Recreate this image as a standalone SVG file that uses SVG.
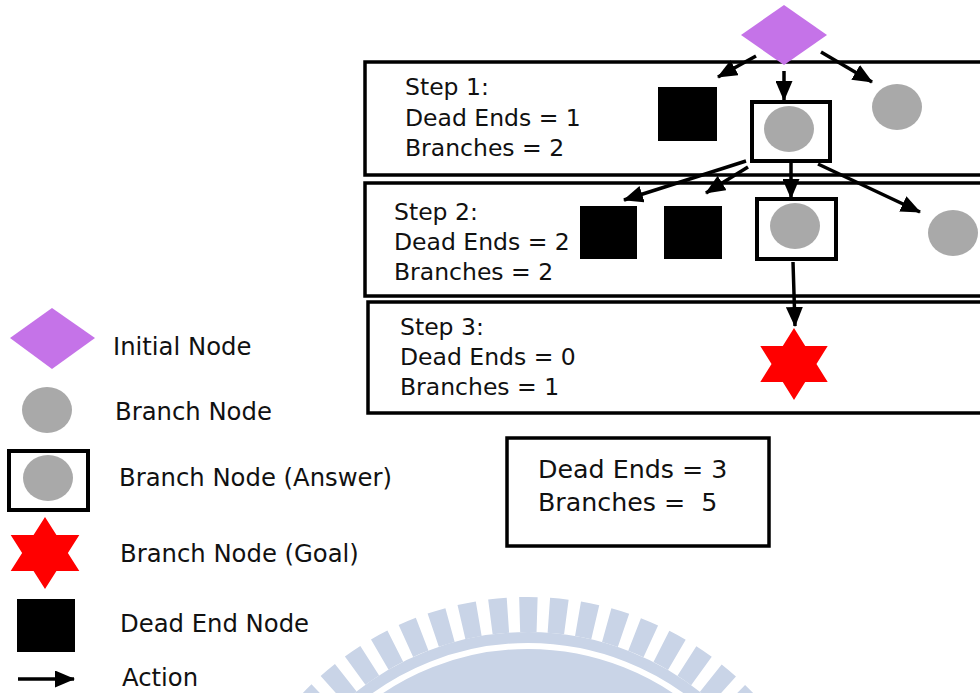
<svg xmlns="http://www.w3.org/2000/svg" width="980" height="693" viewBox="0 0 980 693">
  <style>
    .txt { font-family: "DejaVu Sans", "Noto Sans", sans-serif; fill: #111; }
    .step { font-size: 23.5px; }
    .leg { font-size: 24.3px; }
    .sum { font-size: 25.3px; }
    .frame { fill: #fff; stroke: #000; stroke-width: 3.5; }
    .ansbox { fill: #fff; stroke: #000; stroke-width: 4; }
    .branch { fill: #a9a9a9; }
    .dead { fill: #000; }
    .init { fill: #c573e8; }
    .goal { fill: #ff0000; }
    .edge { stroke: #000; stroke-width: 3.5; fill: none; marker-end: url(#arrow); }
    .wm { fill: none; stroke: #c9d4e7; }
  </style>
  <defs>
    <marker id="arrow" markerUnits="userSpaceOnUse" markerWidth="20" markerHeight="17" refX="19" refY="8.5" orient="auto">
      <path d="M0,0 L20,8.5 L0,17 z" fill="#000"/>
    </marker>
    <polygon id="hexagram" points="0,-36 10.4,-18 31.2,-18 20.8,0 31.2,18 10.4,18 0,36 -10.4,18 -31.2,18 -20.8,0 -31.2,-18 -10.4,-18"/>
  </defs>

  <rect width="980" height="693" fill="#fff"/>

  <!-- background emblem: toothed ring (63 teeth, one centred on top) -->
  <g id="emblem">
    <circle class="wm" cx="528" cy="909" r="294.5" stroke-width="35" stroke-dasharray="17.62 11.751" stroke-dashoffset="23.48" transform="rotate(90 528 909)"/>
    <circle class="wm" cx="528" cy="909" r="271.5" stroke-width="11"/>
    <circle class="wm" cx="528" cy="909" r="235" stroke-width="50"/>
  </g>

  <!-- step frames -->
  <g id="step1">
    <rect class="frame" x="365" y="62" width="625" height="113"/>
    <text class="txt step" x="405" y="95">Step 1:</text>
    <text class="txt step" x="405" y="126">Dead Ends = 1</text>
    <text class="txt step" x="405" y="156">Branches = 2</text>
  </g>
  <g id="step2">
    <rect class="frame" x="365" y="183" width="625" height="113"/>
    <text class="txt step" x="394" y="220">Step 2:</text>
    <text class="txt step" x="394" y="250">Dead Ends = 2</text>
    <text class="txt step" x="394" y="280">Branches = 2</text>
  </g>
  <g id="step3">
    <rect class="frame" x="368" y="302" width="622" height="111"/>
    <text class="txt step" x="400" y="335">Step 3:</text>
    <text class="txt step" x="400" y="365">Dead Ends = 0</text>
    <text class="txt step" x="400" y="395">Branches = 1</text>
  </g>

  <!-- totals -->
  <g id="totals">
    <rect class="frame" x="507" y="438" width="262" height="108"/>
    <text class="txt sum" x="538" y="478">Dead Ends = 3</text>
    <text class="txt sum" x="538" y="511" xml:space="preserve">Branches =  5</text>
  </g>

  <!-- search tree nodes -->
  <g id="start">
    <polygon class="init" points="784,5 827,35 784,65 741,35"/>
  </g>
  <g id="s1-dead">
    <rect class="dead" x="658" y="87" width="59" height="54"/>
  </g>
  <g id="s1-answer">
    <rect class="ansbox" x="752" y="102" width="78" height="59"/>
    <ellipse class="branch" cx="789" cy="129" rx="25" ry="23"/>
  </g>
  <g id="s1-branch">
    <ellipse class="branch" cx="897" cy="107" rx="25" ry="23"/>
  </g>
  <g id="s2-dead-a">
    <rect class="dead" x="580" y="206" width="57" height="53"/>
  </g>
  <g id="s2-dead-b">
    <rect class="dead" x="664" y="206" width="58" height="53"/>
  </g>
  <g id="s2-answer">
    <rect class="ansbox" x="757" y="199" width="79" height="60"/>
    <ellipse class="branch" cx="795" cy="226" rx="25" ry="23"/>
  </g>
  <g id="s2-branch">
    <ellipse class="branch" cx="953" cy="233" rx="25" ry="23"/>
  </g>
  <g id="s3-goal">
    <use href="#hexagram" class="goal" transform="translate(794 364) scale(1.08 1)"/>
  </g>

  <!-- actions -->
  <g id="connectors">
    <line class="edge" x1="756" y1="56" x2="718" y2="77"/>
    <line class="edge" x1="784" y1="71" x2="784" y2="100"/>
    <line class="edge" x1="821" y1="52" x2="872" y2="82"/>
    <line class="edge" x1="746" y1="161" x2="624" y2="200"/>
    <line class="edge" x1="748" y1="167" x2="706" y2="193"/>
    <line class="edge" x1="791" y1="161" x2="791" y2="198"/>
    <line class="edge" x1="818" y1="164" x2="920" y2="212"/>
    <line class="edge" x1="793" y1="262" x2="795" y2="326"/>
  </g>

  <!-- legend -->
  <g id="legend-initial">
    <polygon class="init" points="52,308 95,338 52,369 10,338"/>
    <text class="txt leg" x="113" y="355" font-size="20.2">Initial Node</text>
  </g>
  <g id="legend-branch">
    <ellipse class="branch" cx="47" cy="410" rx="25" ry="23"/>
    <text class="txt leg" x="115" y="420">Branch Node</text>
  </g>
  <g id="legend-answer">
    <rect class="ansbox" x="9" y="451" width="79" height="59"/>
    <ellipse class="branch" cx="48" cy="478" rx="25" ry="23"/>
    <text class="txt leg" x="119" y="486">Branch Node (Answer)</text>
  </g>
  <g id="legend-goal">
    <use href="#hexagram" class="goal" transform="translate(45 553) scale(1.1 1)"/>
    <text class="txt leg" x="120" y="562">Branch Node (Goal)</text>
  </g>
  <g id="legend-dead">
    <rect class="dead" x="17" y="599" width="58" height="53"/>
    <text class="txt leg" x="120" y="632" font-size="23.6">Dead End Node</text>
  </g>
  <g id="legend-action">
    <line class="edge" x1="18" y1="679" x2="74" y2="679"/>
    <text class="txt leg" x="122" y="686" font-size="24.8">Action</text>
  </g>
</svg>
